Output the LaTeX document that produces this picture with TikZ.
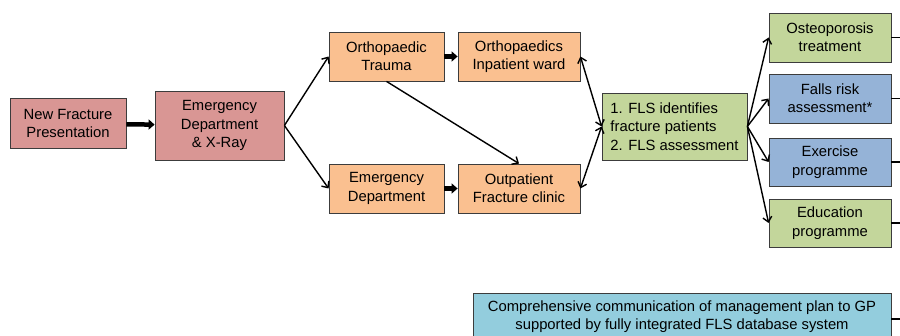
\documentclass[tikz,border=0pt]{standalone}
\usepackage{fontspec}
\setmainfont{Liberation Sans}
\usetikzlibrary{arrows.meta}
\definecolor{pinkc}{RGB}{217,150,148}
\definecolor{orangec}{RGB}{250,192,144}
\definecolor{greenc}{RGB}{195,214,155}
\definecolor{bluec}{RGB}{149,179,215}
\definecolor{lbluec}{RGB}{147,205,221}
\definecolor{edgec}{RGB}{60,60,60}
\tikzset{
  box/.style={draw=edgec, line width=0.8pt, inner sep=0pt, align=center,
    font=\fontsize{14.8}{18.4}\selectfont, text=black},
  thick arr/.style={line width=4.5pt, -{Triangle[length=6pt,width=10pt]}},
  thin arr/.style={line width=1.4pt, -{Straight Barb[length=5pt,width=9pt]}},
  dbl arr/.style={line width=1.4pt, {Straight Barb[length=5pt,width=9pt]}-{Straight Barb[length=5pt,width=9pt]}},
  plain/.style={line width=1.4pt}
}
\begin{document}
\begin{tikzpicture}[x=1pt,y=1pt]
\useasboundingbox (0,0) rectangle (900,336);
\clip (0,0) rectangle (900,336);
\fill[white] (0,0) rectangle (900,336);
\node[box, fill=pinkc, minimum width=116pt, minimum height=50pt] (nfp) at (68,212.5) {New Fracture\\Presentation};
\node[box, fill=pinkc, minimum width=129pt, minimum height=69pt] (ed) at (219.5,210.5) {Emergency\\Department\\\& X-Ray};
\node[box, fill=orangec, minimum width=115pt, minimum height=49pt] (ot) at (386.5,279.5) {Orthopaedic\\Trauma};
\node[box, fill=orangec, minimum width=122pt, minimum height=49pt] (ipw) at (519,279.5) {Orthopaedics\\Inpatient ward};
\node[box, fill=orangec, minimum width=115pt, minimum height=49pt] (emd) at (386.5,147.5) {Emergency\\Department};
\node[box, fill=orangec, minimum width=122pt, minimum height=49pt] (opc) at (519,147.5) {Outpatient\\Fracture clinic};
\node[box, fill=greenc, minimum width=145pt, minimum height=67pt, align=left] (fls) at (674.5,209.5) {1. FLS identifies\\fracture patients\\2. FLS assessment};
\node[box, fill=greenc, minimum width=122pt, minimum height=49pt] (ost) at (830,298.5) {Osteoporosis\\treatment};
\node[box, fill=bluec, minimum width=122pt, minimum height=49pt] (frk) at (830,237.5) {Falls risk\\assessment*};
\node[box, fill=bluec, minimum width=122pt, minimum height=48pt] (exe) at (830,174) {Exercise\\programme};
\node[box, fill=greenc, minimum width=122pt, minimum height=48pt] (edu) at (830,113) {Education\\programme};
\node[box, fill=lbluec, minimum width=418pt, minimum height=60pt, anchor=north] (gp) at (682,43) {\rule{0pt}{18pt}Comprehensive communication of management plan to GP\\supported by fully integrated FLS database system\\[14pt]};
\coordinate (x1) at (910,298.5);
\coordinate (x2) at (910,237.5);
\coordinate (x3) at (910,174);
\coordinate (x4) at (910,113);
\coordinate (x5) at (910,17);
\draw[thick arr] (nfp) -- (ed);
\draw[thick arr] (ot) -- (ipw);
\draw[thick arr] (emd) -- (opc);
\draw[thin arr] (ed.east) -- (ot.west);
\draw[thin arr] (ed.east) -- (emd.west);
\draw[thin arr] (ot.south) -- (opc.north);
\draw[dbl arr] (ipw.east) -- (fls.west);
\draw[dbl arr] (opc.east) -- (fls.west);
\draw[thin arr] (fls.east) -- (ost.west);
\draw[thin arr] (fls.east) -- (frk.west);
\draw[thin arr] (fls.east) -- (exe.west);
\draw[thin arr] (fls.east) -- (edu.west);
\draw[plain] (ost.east) -- (x1);
\draw[plain] (frk.east) -- (x2);
\draw[plain] (exe.east) -- (x3);
\draw[plain] (edu.east) -- (x4);
\draw[plain] (gp.east |- x5) -- (x5);
\end{tikzpicture}
\end{document}
